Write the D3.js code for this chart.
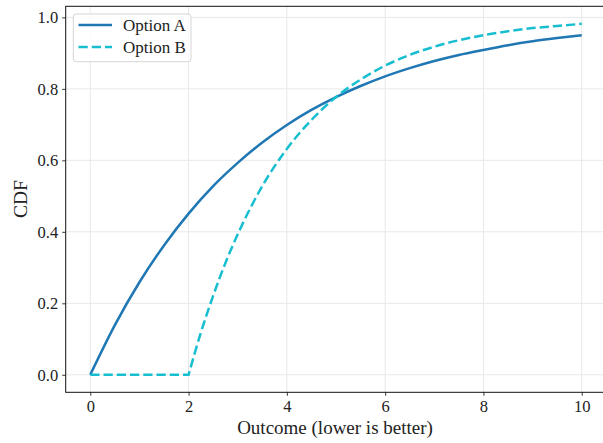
<!DOCTYPE html>
<html><head><meta charset="utf-8">
<script src="https://cdn.jsdelivr.net/npm/d3@7"></script>
<style>
html,body{margin:0;padding:0;background:#fff;}
svg{display:block;}
</style></head>
<body>
<svg id="chart" width="603" height="443"></svg>
<script>
// Data
const xValuesA = [0,0.5,1,1.5,2,2.5,3,3.5,4,4.5,5,5.5,6,6.5,7,7.5,8,8.5,9,9.5,10];
const optionA = [0,0.139,0.259,0.362,0.451,0.528,0.593,0.650,0.699,0.741,0.777,0.808,0.835,0.858,0.878,0.895,0.909,0.922,0.933,0.942,0.950];
const xValuesB = [0,1,2,2.25,2.5,2.75,3,3.5,4,4.5,5,5.5,6,6.5,7,7.5,8,8.5,9,9.5,10];
const optionB = [0,0,0,0.118,0.221,0.313,0.393,0.528,0.632,0.713,0.777,0.826,0.865,0.895,0.918,0.936,0.950,0.961,0.970,0.976,0.982];
const seriesNames = ["Option A","Option B"];
const xTicks = [0,2,4,6,8,10];
const yTicks = [0.0,0.2,0.4,0.6,0.8,1.0];
const xLabel = "Outcome (lower is better)";
const yLabel = "CDF";

(function(){
const FONT = "'Liberation Serif','DejaVu Serif',serif";
const svg = d3.select("#chart");
const pL = 65.7, pR = 606.3, pT = 6.3, pB = 392.3;
const x = d3.scaleLinear().domain([-0.5,10.5]).range([pL,pR]);
const y = d3.scaleLinear().domain([-0.049,1.031]).range([pB,pT]);

svg.append("defs").append("clipPath").attr("id","clip")
  .append("rect").attr("x",pL).attr("y",pT).attr("width",pR-pL).attr("height",pB-pT);

// grid
const grid = svg.append("g");
grid.selectAll(".gx").data(xTicks).enter().append("line")
  .attr("x1",d=>x(d)).attr("x2",d=>x(d)).attr("y1",pT).attr("y2",pB)
  .attr("stroke","#e8e8e8").attr("stroke-width",1);
grid.selectAll(".gy").data(yTicks).enter().append("line")
  .attr("x1",pL).attr("x2",pR).attr("y1",d=>y(d)).attr("y2",d=>y(d))
  .attr("stroke","#e8e8e8").attr("stroke-width",1);

// lines
const line = d3.line().x(d=>x(d[0])).y(d=>y(d[1])).curve(d3.curveMonotoneX);
const dataA = xValuesA.map((v,i)=>[v,optionA[i]]);
const dataB = xValuesB.map((v,i)=>[v,optionB[i]]);
// Option B: flat part drawn straight, rising part smooth
const firstRise = dataB.findIndex(d=>d[1]>0) - 1;
const flat = dataB.slice(0, firstRise+1);
const rise = dataB.slice(firstRise);
const dB = d3.line().x(d=>x(d[0])).y(d=>y(d[1]))(flat) + "L" + line(rise).slice(1);
const plot = svg.append("g").attr("clip-path","url(#clip)");
plot.append("path").datum(dataA).attr("d",line).attr("fill","none")
  .attr("stroke","#1f77b4").attr("stroke-width",2.5);
plot.append("path").attr("d",dB).attr("fill","none")
  .attr("stroke","#17becf").attr("stroke-width",2.5).attr("stroke-dasharray","9.25,4");

// axes
const xAxis = d3.axisBottom(x).tickValues(xTicks).tickFormat(d3.format("d")).tickSize(3.5).tickPadding(3);
const yAxis = d3.axisLeft(y).tickValues(yTicks).tickFormat(d3.format(".1f")).tickSize(3.5).tickPadding(4);
const gx = svg.append("g").attr("transform",`translate(0,${pB})`).call(xAxis);
const gy = svg.append("g").attr("transform",`translate(${pL},0)`).call(yAxis);
[gx,gy].forEach(g=>{
  g.attr("font-family",FONT);
  g.select(".domain").remove();
  g.selectAll(".tick line").attr("stroke","#222").attr("stroke-width",0.9);
  g.selectAll(".tick text").attr("font-family",FONT).style("font-family",FONT)
    .style("font-size","16.5px").attr("fill","#222");
});
gx.selectAll(".tick text").attr("dy","0.8em");

// spines
svg.append("rect").attr("x",pL).attr("y",pT).attr("width",pR-pL).attr("height",pB-pT)
  .attr("fill","none").attr("stroke","#111").attr("stroke-width",1);

// labels
svg.append("text").attr("x",(pL+pR)/2 - 1).attr("y",434).attr("text-anchor","middle")
  .style("font-family",FONT).style("font-size","19px").attr("fill","#222").text(xLabel);
svg.append("text").attr("transform","translate(27,199) rotate(-90)").attr("text-anchor","middle")
  .style("font-family",FONT).style("font-size","19.5px").attr("fill","#222").text(yLabel);

// legend
const lg = svg.append("g");
lg.append("rect").attr("x",73.3).attr("y",14).attr("width",117.7).attr("height",47.7)
  .attr("rx",3).attr("fill","#fff").attr("fill-opacity",0.8).attr("stroke","#d5d5d5").attr("stroke-width",1);
const legendItems = [
  {name:seriesNames[0], color:"#1f77b4", dash:null, yy:25},
  {name:seriesNames[1], color:"#17becf", dash:"9.25,4", yy:47}
];
legendItems.forEach(it=>{
  lg.append("line").attr("x1",78.5).attr("x2",112).attr("y1",it.yy).attr("y2",it.yy)
    .attr("stroke",it.color).attr("stroke-width",2.5).attr("stroke-dasharray",it.dash);
  lg.append("text").attr("x",123).attr("y",it.yy+5.5).style("font-family",FONT)
    .style("font-size","17px").attr("fill","#222").text(it.name);
});
})();
</script>
</body></html>
